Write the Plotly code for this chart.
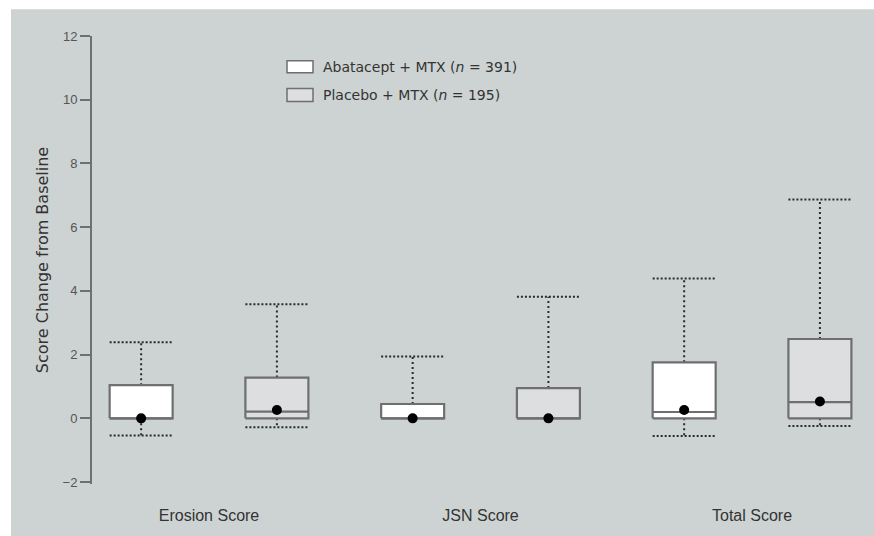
import plotly.graph_objects as go

# Radiographic progression summary (change from baseline)
categories = ["Erosion Score", "JSN Score", "Total Score"]
series_names = ["Abatacept + MTX (<i>n</i> = 391)", "Placebo + MTX (<i>n</i> = 195)"]

abat_q1 = [0.0, 0.0, 0.0]
abat_median = [0.0, 0.0, 0.2]
abat_q3 = [1.04, 0.45, 1.76]
abat_low = [-0.54, 0.0, -0.55]
abat_high = [2.39, 1.94, 4.39]
abat_mean = [0.0, 0.0, 0.26]

plac_q1 = [0.0, 0.0, 0.0]
plac_median = [0.21, 0.0, 0.51]
plac_q3 = [1.28, 0.95, 2.49]
plac_low = [-0.28, 0.0, -0.24]
plac_high = [3.58, 3.82, 6.87]
plac_mean = [0.26, 0.0, 0.53]

y_ticks = [-2, 0, 2, 4, 6, 8, 10, 12]

BG = "#cdd3d2"
OUTLINE = "#6f6f6f"
WHISK = "#2a2a2a"
TEXT = "#333333"
FONT = "Liberation Sans Narrow, Liberation Sans, Arial Narrow, sans-serif"
WIDE_FONT = "DejaVu Sans, sans-serif"

offset = 0.25
half_w = 0.116

groups = [
    dict(name=series_names[0], q1=abat_q1, med=abat_median, q3=abat_q3,
         lo=abat_low, hi=abat_high, mean=abat_mean, fill="#ffffff", shift=-offset),
    dict(name=series_names[1], q1=plac_q1, med=plac_median, q3=plac_q3,
         lo=plac_low, hi=plac_high, mean=plac_mean, fill="#dcdedf", shift=offset),
]

fig = go.Figure()

for gi, g in enumerate(groups):
    bx, by = [], []
    mx, my = [], []
    wx, wy = [], []
    cx, cy = [], []
    px, py = [], []
    for i in range(len(categories)):
        c = i + g["shift"]
        l, r = c - half_w, c + half_w
        # box body
        bx += [l, r, r, l, l, None]
        by += [g["q1"][i], g["q1"][i], g["q3"][i], g["q3"][i], g["q1"][i], None]
        # median line
        mx += [l, r, None]
        my += [g["med"][i], g["med"][i], None]
        # whisker stems and caps
        if g["hi"][i] > g["q3"][i]:
            wx += [c, c, None]
            wy += [g["q3"][i], g["hi"][i], None]
            cx += [l, r, None]
            cy += [g["hi"][i], g["hi"][i], None]
        if g["lo"][i] < g["q1"][i]:
            wx += [c, c, None]
            wy += [g["q1"][i], g["lo"][i], None]
            cx += [l, r, None]
            cy += [g["lo"][i], g["lo"][i], None]
        px.append(c)
        py.append(g["mean"][i])

    fig.add_trace(go.Scatter(x=wx, y=wy, mode="lines", showlegend=False, hoverinfo="skip",
                             line=dict(color=WHISK, width=2, dash="2px,3px")))
    fig.add_trace(go.Scatter(x=cx, y=cy, mode="lines", showlegend=False, hoverinfo="skip",
                             line=dict(color=WHISK, width=2, dash="2px,2px")))
    fig.add_trace(go.Scatter(x=bx, y=by, mode="lines", fill="toself", fillcolor=g["fill"],
                             name=g["name"], showlegend=False,
                             line=dict(color=OUTLINE, width=2.2)))
    fig.add_trace(go.Scatter(x=mx, y=my, mode="lines", showlegend=False, hoverinfo="skip",
                             line=dict(color=OUTLINE, width=2.2)))
    fig.add_trace(go.Scatter(x=px, y=py, mode="markers", showlegend=False,
                             marker=dict(color="black", size=10)))

# grey panel behind the plot
fig.add_shape(type="rect", xref="paper", yref="paper", layer="below",
              x0=-0.1052, x1=1.06, y0=-0.15, y1=1.0595,
              fillcolor=BG, line=dict(width=0))

# key: swatch + label per series (pixel positions converted to paper units)
PLOT_L, PLOT_W, PLOT_B, PLOT_H = 92, 770, 488, 452


def px2x(p):
    return (p - PLOT_L) / PLOT_W


def py2y(p):
    return (PLOT_B - p) / PLOT_H


key_rows = [(61, 73, 67), (89, 102, 96)]
for g, (top, bot, mid) in zip(groups, key_rows):
    fig.add_shape(type="rect", xref="paper", yref="paper",
                  x0=px2x(287), x1=px2x(313), y0=py2y(bot), y1=py2y(top),
                  fillcolor=g["fill"], line=dict(color=OUTLINE, width=1.5))
    fig.add_annotation(xref="paper", yref="paper", x=px2x(321), y=py2y(mid),
                       xanchor="left", yanchor="middle", showarrow=False,
                       text=g["name"], font=dict(family=WIDE_FONT, size=14, color=TEXT))

fig.update_layout(
    width=874, height=536,
    margin=dict(l=92, r=12, t=36, b=42),
    paper_bgcolor="white",
    plot_bgcolor=BG,
    showlegend=False,
    xaxis=dict(range=[-0.431, 2.405], tickmode="array",
               tickvals=list(range(len(categories))), ticktext=categories,
               showline=False, showgrid=False, zeroline=False, ticks="",
               ticklabelstandoff=20,
               tickfont=dict(family=FONT, size=16, color=TEXT)),
    yaxis=dict(range=[-2.06, 12.0], tickvals=y_ticks, showgrid=False, zeroline=False,
               showline=True, linecolor=OUTLINE, linewidth=2,
               ticks="outside", ticklen=10, tickwidth=1.5, tickcolor=OUTLINE,
               tickfont=dict(family=FONT, size=13, color="#555555"),
               title=dict(text="Score Change from Baseline", standoff=10,
                          font=dict(family=WIDE_FONT, size=16, color=TEXT))),
)

fig.write_html("out.html")
